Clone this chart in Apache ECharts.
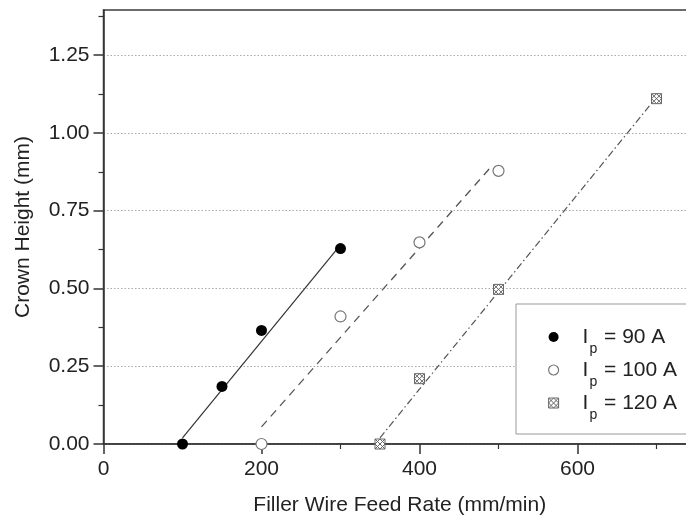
<!DOCTYPE html>
<html><head><meta charset="utf-8">
<script src="https://cdn.jsdelivr.net/npm/echarts@6/dist/echarts.min.js"></script>
<style>html,body{margin:0;padding:0;background:#fff}#c{width:686px;height:520px}</style>
</head><body><div id="c"></div>
<script>
// ---- data ----
const xTicks = [0, 200, 400, 600];
const yTicks = [0, 0.25, 0.5, 0.75, 1.0, 1.25];
const currents = ['90 A', '100 A', '120 A'];

const feed90 = [100, 150, 200, 300];
const crown90 = [0, 0.185, 0.365, 0.628];
const feed100 = [200, 300, 400, 500];
const crown100 = [0, 0.41, 0.648, 0.878];
const feed120 = [350, 400, 500, 700];
const crown120 = [0, 0.21, 0.497, 1.11];

// fitted lines (end points)
const fit90X = [100, 300];  const fit90Y = [0.02, 0.64];
const fit100X = [200, 492]; const fit100Y = [0.055, 0.895];
const fit120X = [350, 700]; const fit120Y = [0.02, 1.115];

const zip = (xs, ys) => xs.map((x, i) => [x, ys[i]]);
const names = currents.map(c => 'Ip = ' + c);
const FONT = '"Liberation Sans", Arial, sans-serif';

const crossSquare = 'path://M0,0L10,0L10,10L0,10ZM0,0L10,10M10,0L0,10M5,0L10,5L5,10L0,5Z';
const styles = [
  {symbol: 'circle', itemStyle: {color: '#000', borderColor: '#000', borderWidth: 0, opacity: 1}},
  {symbol: 'circle', itemStyle: {color: '#fff', borderColor: '#777', borderWidth: 1.2, opacity: 1}},
  {symbol: crossSquare, itemStyle: {color: '#fff', borderColor: '#666', borderWidth: 1, opacity: 1}}
];

const chart = echarts.init(document.getElementById('c'), null, {renderer: 'canvas'});
chart.setOption({
  animation: false,
  backgroundColor: '#fff',
  textStyle: {fontFamily: FONT},
  grid: {
    left: 103.5, top: 10, width: 592.5, height: 434,
    show: true, borderColor: '#3c3c3c', borderWidth: 1.5, backgroundColor: 'transparent',
    containLabel: false, outerBoundsMode: 'none'
  },
  xAxis: {
    type: 'value', min: 0, max: 750, interval: 200,
    name: 'Filler Wire Feed Rate (mm/min)', nameLocation: 'middle', nameGap: 51,
    nameTextStyle: {fontSize: 21, color: '#222', fontFamily: FONT},
    axisLine: {show: true, onZero: false, lineStyle: {color: '#333', width: 1.5}},
    axisTick: {show: true, inside: false, length: 10, customValues: xTicks, lineStyle: {color: '#333', width: 1.5}},
    minorTick: {show: true, splitNumber: 2, length: 5, lineStyle: {color: '#333', width: 1.2}},
    axisLabel: {customValues: xTicks, fontSize: 21, color: '#222', margin: 15, fontFamily: FONT,
      formatter: v => String(Math.round(v))},
    splitLine: {show: false}
  },
  yAxis: {
    type: 'value', min: 0, max: 1.395, interval: 0.25,
    name: 'Crown Height (mm)', nameLocation: 'middle', nameGap: 70,
    nameTextStyle: {fontSize: 21, color: '#222', fontFamily: FONT},
    axisLine: {show: true, onZero: false, lineStyle: {color: '#333', width: 1.5}},
    axisTick: {show: true, inside: false, length: 10, customValues: yTicks, lineStyle: {color: '#333', width: 1.5}},
    minorTick: {show: true, splitNumber: 2, length: 5, lineStyle: {color: '#333', width: 1.2}},
    axisLabel: {customValues: yTicks, fontSize: 21, color: '#222', margin: 14, fontFamily: FONT,
      formatter: v => v.toFixed(2)},
    splitLine: {show: true, lineStyle: {color: '#aaa', type: [1.5, 2], width: 1}},
    minorSplitLine: {show: false}
  },
  legend: {
    data: names.map((n, i) => ({name: n, icon: styles[i].symbol, itemStyle: styles[i].itemStyle})),
    orient: 'vertical',
    left: 516, top: 304,
    padding: [14, 30, 12, 32],
    backgroundColor: '#fff', borderColor: '#999', borderWidth: 1,
    itemWidth: 10, itemHeight: 10, itemGap: -5,
    selectedMode: false,
    formatter: name => '{i|I}{p|p}{t| = ' + currents[names.indexOf(name)] + '}',
    textStyle: {
      fontFamily: FONT, color: '#222',
      rich: {
        i: {fontSize: 21, lineHeight: 24, color: '#222', fontFamily: FONT, padding: [0, 0, 0, 19]},
        p: {fontSize: 14, lineHeight: 14, color: '#222', fontFamily: FONT, padding: [24, 1, 0, 1]},
        t: {fontSize: 21, lineHeight: 24, color: '#222', fontFamily: FONT}
      }
    }
  },
  series: [
    {type: 'line', data: zip(fit90X, fit90Y), symbol: 'none', silent: true, z: 2,
      lineStyle: {color: '#333', width: 1.2, type: 'solid'}},
    {type: 'line', data: zip(fit100X, fit100Y), symbol: 'none', silent: true, z: 2,
      lineStyle: {color: '#555', width: 1.3, type: [8, 6]}},
    {type: 'line', data: zip(fit120X, fit120Y), symbol: 'none', silent: true, z: 2,
      lineStyle: {color: '#555', width: 1.2, type: [7, 3, 1.5, 3]}},
    {type: 'scatter', name: names[0], data: zip(feed90, crown90), symbol: styles[0].symbol, symbolSize: 11, z: 3,
      itemStyle: styles[0].itemStyle},
    {type: 'scatter', name: names[1], data: zip(feed100, crown100), symbol: styles[1].symbol, symbolSize: 11, z: 3,
      itemStyle: styles[1].itemStyle},
    {type: 'scatter', name: names[2], data: zip(feed120, crown120), symbol: styles[2].symbol, symbolSize: 10, z: 3,
      itemStyle: styles[2].itemStyle}
  ]
});
</script></body></html>
